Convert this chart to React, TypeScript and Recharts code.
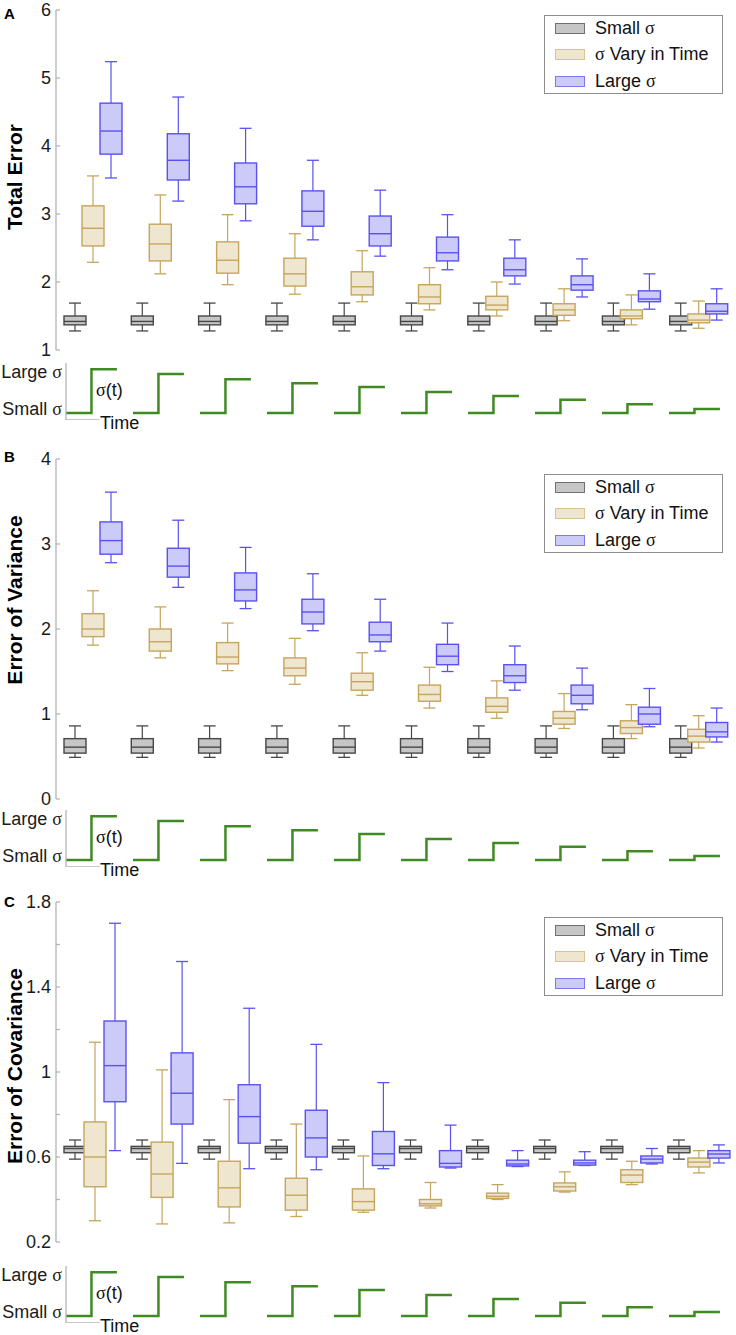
import React from 'react';
import { ComposedChart, Bar, XAxis, YAxis, Legend, LineChart, Line, ReferenceLine } from 'recharts';

const FONT = "'Liberation Sans', Arial, Helvetica, sans-serif";
const SERIF = "'Liberation Serif', 'DejaVu Serif', serif";

const groups = ['1', '2', '3', '4', '5', '6', '7', '8', '9', '10'];
const seriesNames = ['Small σ', 'σ Vary in Time', 'Large σ'];

// each box: [min, q1, median, q3, max]
const totalSmall = [
  [1.28, 1.37, 1.42, 1.5, 1.69], [1.28, 1.37, 1.42, 1.5, 1.69], [1.28, 1.37, 1.42, 1.5, 1.69],
  [1.28, 1.37, 1.42, 1.5, 1.69], [1.28, 1.37, 1.42, 1.5, 1.69], [1.28, 1.37, 1.42, 1.5, 1.69],
  [1.28, 1.37, 1.42, 1.5, 1.69], [1.28, 1.37, 1.42, 1.5, 1.69], [1.28, 1.37, 1.42, 1.5, 1.69],
  [1.28, 1.37, 1.42, 1.5, 1.69],
];
const totalVary = [
  [2.29, 2.53, 2.79, 3.12, 3.56], [2.12, 2.31, 2.56, 2.85, 3.28], [1.96, 2.13, 2.32, 2.59, 2.99],
  [1.82, 1.94, 2.12, 2.35, 2.71], [1.71, 1.81, 1.93, 2.15, 2.46], [1.59, 1.68, 1.78, 1.96, 2.21],
  [1.5, 1.59, 1.66, 1.79, 2.0], [1.43, 1.51, 1.59, 1.68, 1.9], [1.37, 1.46, 1.5, 1.59, 1.81],
  [1.32, 1.4, 1.44, 1.53, 1.72],
];
const totalLarge = [
  [3.53, 3.88, 4.22, 4.63, 5.24], [3.19, 3.5, 3.79, 4.18, 4.72], [2.9, 3.15, 3.4, 3.75, 4.26],
  [2.62, 2.82, 3.04, 3.34, 3.79], [2.38, 2.53, 2.71, 2.97, 3.35], [2.18, 2.31, 2.43, 2.66, 2.99],
  [1.97, 2.09, 2.18, 2.35, 2.62], [1.78, 1.88, 1.96, 2.09, 2.34], [1.6, 1.71, 1.75, 1.87, 2.12],
  [1.44, 1.53, 1.57, 1.68, 1.9],
];

const varSmall = [
  [0.49, 0.54, 0.61, 0.71, 0.86], [0.49, 0.54, 0.61, 0.71, 0.86], [0.49, 0.54, 0.61, 0.71, 0.86],
  [0.49, 0.54, 0.61, 0.71, 0.86], [0.49, 0.54, 0.61, 0.71, 0.86], [0.49, 0.54, 0.61, 0.71, 0.86],
  [0.49, 0.54, 0.61, 0.71, 0.86], [0.49, 0.54, 0.61, 0.71, 0.86], [0.49, 0.54, 0.61, 0.71, 0.86],
  [0.49, 0.54, 0.61, 0.71, 0.86],
];
const varVary = [
  [1.81, 1.91, 2.0, 2.18, 2.45], [1.66, 1.74, 1.85, 2.0, 2.26], [1.51, 1.59, 1.67, 1.84, 2.07],
  [1.35, 1.45, 1.54, 1.66, 1.89], [1.22, 1.28, 1.38, 1.48, 1.72], [1.07, 1.15, 1.23, 1.34, 1.55],
  [0.95, 1.02, 1.09, 1.19, 1.39], [0.83, 0.88, 0.95, 1.03, 1.24], [0.71, 0.77, 0.84, 0.92, 1.11],
  [0.6, 0.67, 0.74, 0.82, 0.98],
];
const varLarge = [
  [2.78, 2.88, 3.04, 3.26, 3.61], [2.49, 2.61, 2.74, 2.95, 3.28], [2.24, 2.33, 2.46, 2.66, 2.96],
  [1.98, 2.06, 2.2, 2.35, 2.65], [1.74, 1.85, 1.93, 2.08, 2.35], [1.5, 1.58, 1.68, 1.82, 2.07],
  [1.28, 1.37, 1.45, 1.58, 1.8], [1.05, 1.12, 1.22, 1.34, 1.54], [0.85, 0.88, 1.0, 1.08, 1.3],
  [0.67, 0.73, 0.79, 0.9, 1.07],
];

const covSmall = [
  [0.59, 0.62, 0.64, 0.65, 0.68], [0.59, 0.62, 0.64, 0.65, 0.68], [0.59, 0.62, 0.64, 0.65, 0.68],
  [0.59, 0.62, 0.64, 0.65, 0.68], [0.59, 0.62, 0.64, 0.65, 0.68], [0.59, 0.62, 0.64, 0.65, 0.68],
  [0.59, 0.62, 0.64, 0.65, 0.68], [0.59, 0.62, 0.64, 0.65, 0.68], [0.59, 0.62, 0.64, 0.65, 0.68],
  [0.59, 0.62, 0.64, 0.65, 0.68],
];
const covVary = [
  [0.3, 0.46, 0.6, 0.765, 1.14], [0.285, 0.41, 0.52, 0.67, 1.01], [0.29, 0.365, 0.455, 0.58, 0.87],
  [0.32, 0.35, 0.42, 0.5, 0.755], [0.34, 0.35, 0.39, 0.45, 0.605], [0.36, 0.37, 0.38, 0.4, 0.48],
  [0.4, 0.405, 0.415, 0.43, 0.47], [0.435, 0.44, 0.46, 0.478, 0.53], [0.47, 0.48, 0.515, 0.54, 0.58],
  [0.525, 0.553, 0.576, 0.595, 0.63],
];
const covLarge = [
  [0.63, 0.86, 1.03, 1.24, 1.7], [0.57, 0.755, 0.9, 1.09, 1.52], [0.545, 0.665, 0.79, 0.94, 1.3],
  [0.54, 0.6, 0.69, 0.82, 1.13], [0.545, 0.56, 0.615, 0.72, 0.95], [0.548, 0.553, 0.57, 0.63, 0.75],
  [0.555, 0.558, 0.567, 0.585, 0.63], [0.56, 0.562, 0.572, 0.585, 0.625], [0.567, 0.572, 0.59, 0.605, 0.64],
  [0.572, 0.595, 0.614, 0.63, 0.657],
];

const totalTicks = [1, 2, 3, 4, 5, 6];
const totalTickLabels = ['1', '2', '3', '4', '5', '6'];
const varTicks = [0, 1, 2, 3, 4];
const varTickLabels = ['0', '1', '2', '3', '4'];
const covTicks = [0.2, 0.4, 0.6, 0.8, 1.0, 1.2, 1.4, 1.6, 1.8];
const covTickLabels = ['0.2', '', '0.6', '', '1', '', '1.4', '', '1.8'];

// sigma(t) illustration: size of the step in each group (0 = small σ, 1 = large σ)
const stepLevels = [1, 0.89, 0.77, 0.68, 0.59, 0.48, 0.39, 0.3, 0.2, 0.09];
const stepStarts = [0, 1, 2, 3, 4, 5, 6, 7, 8, 9];
const stepJump = 0.38;
const stepEnd = 0.76;
const stripTicks = [0, 1];
const stripTickLabels = ['Small σ', 'Large σ'];

const SERIES = [
  { key: 'small', fill: '#c6c6c6', stroke: '#474747', legendStroke: '#707070' },
  { key: 'vary', fill: '#efe6cf', stroke: '#c6a55c', legendStroke: '#d8c393' },
  { key: 'large', fill: '#cbcaf9', stroke: '#5a52f0', legendStroke: '#7d77f2' },
];

const AXIS_COLOR = '#b3b3b3';
const GREEN = '#3f8a22';

const buildRows = (small: number[][], vary: number[][], large: number[][]) =>
  groups.map((g, i) => ({ g, small: small[i], vary: vary[i], large: large[i] }));

const totalRows = buildRows(totalSmall, totalVary, totalLarge);
const varRows = buildRows(varSmall, varVary, varLarge);
const covRows = buildRows(covSmall, covVary, covLarge);

const stepRows: { t: number; v: number | null }[] = [];
stepStarts.forEach((s, i) => {
  stepRows.push({ t: s, v: 0 });
  stepRows.push({ t: s + stepJump, v: stepLevels[i] });
  stepRows.push({ t: s + stepEnd, v: stepLevels[i] });
  stepRows.push({ t: s + stepEnd + 0.1, v: null });
});

const sigmaSpans = (label: string) => {
  const parts = label.split('σ');
  const out: React.ReactNode[] = [];
  parts.forEach((p, i) => {
    if (p) out.push(<span key={'p' + i}>{p}</span>);
    if (i < parts.length - 1) out.push(<span key={'s' + i} style={{ fontFamily: SERIF }}>σ</span>);
  });
  return out;
};

const sigmaTspans = (label: string) => {
  const parts = label.split('σ');
  const out: React.ReactNode[] = [];
  parts.forEach((p, i) => {
    if (p) out.push(<tspan key={'p' + i}>{p}</tspan>);
    if (i < parts.length - 1) out.push(<tspan key={'s' + i} fontFamily={SERIF}>σ</tspan>);
  });
  return out;
};

const makeBoxShape = (key: string, fill: string, stroke: string) => (props: any) => {
  const { x, y, width, height, payload } = props;
  const s: number[] = payload && payload[key];
  if (!s || x == null || y == null) return <g />;
  const top = Math.min(y, y + height);
  const h = Math.abs(height);
  const k = h / (s[4] - s[0]);
  const py = (v: number) => top + (s[4] - v) * k;
  const cx = x + width / 2;
  const bw = 22;
  const cw = 12;
  return (
    <g>
      <line x1={cx} x2={cx} y1={py(s[4])} y2={py(s[3])} stroke={stroke} strokeWidth={1.2} />
      <line x1={cx} x2={cx} y1={py(s[1])} y2={py(s[0])} stroke={stroke} strokeWidth={1.2} />
      <line x1={cx - cw / 2} x2={cx + cw / 2} y1={py(s[4])} y2={py(s[4])} stroke={stroke} strokeWidth={1.3} />
      <line x1={cx - cw / 2} x2={cx + cw / 2} y1={py(s[0])} y2={py(s[0])} stroke={stroke} strokeWidth={1.3} />
      <rect x={cx - bw / 2} y={py(s[3])} width={bw} height={Math.max(0.5, py(s[1]) - py(s[3]))} fill={fill} stroke={stroke} strokeWidth={1.4} />
      <line x1={cx - bw / 2} x2={cx + bw / 2} y1={py(s[2])} y2={py(s[2])} stroke={stroke} strokeWidth={1.4} />
    </g>
  );
};

const renderYTick = (ticks: number[], labels: string[]) => (p: any) => {
  const { x, y, payload } = p;
  const i = ticks.findIndex((t) => Math.abs(t - payload.value) < 1e-6);
  const lab = i >= 0 ? labels[i] : '';
  return (
    <g>
      <line x1={x + 5} x2={x + 9} y1={y} y2={y} stroke={AXIS_COLOR} strokeWidth={1.3} />
      {lab ? (
        <text x={x} y={y} textAnchor="end" dominantBaseline="central" fontSize={18} fill="#1a1a1a" fontFamily={FONT}>
          {lab}
        </text>
      ) : null}
    </g>
  );
};

const renderStripTick = (p: any) => {
  const { x, y, payload } = p;
  const i = stripTicks.findIndex((t) => Math.abs(t - payload.value) < 1e-6);
  const lab = i >= 0 ? stripTickLabels[i] : '';
  const dy = payload.value > 0.5 ? 3 : -4;
  return (
    <text x={x} y={y + dy} textAnchor="end" dominantBaseline="central" fontSize={18} fill="#1a1a1a" fontFamily={FONT}>
      {sigmaTspans(lab)}
    </text>
  );
};

const renderLegend = () => (
  <div
    style={{
      position: 'relative',
      width: 179,
      height: 79,
      boxSizing: 'border-box',
      border: '1px solid #8e8e8e',
      background: '#fff',
      fontFamily: FONT,
      fontSize: 18,
      color: '#111',
    }}
  >
    {seriesNames.map((name, i) => (
      <div key={name} style={{ position: 'absolute', left: 0, top: 11.5 + i * 26.5 - 11, height: 22, width: 177 }}>
        <div
          style={{
            position: 'absolute',
            left: 10,
            top: 6,
            width: 30,
            height: 11,
            boxSizing: 'border-box',
            background: SERIES[i].fill,
            border: `1px solid ${SERIES[i].legendStroke}`,
          }}
        />
        <div style={{ position: 'absolute', left: 50, top: 0, lineHeight: '22px', whiteSpace: 'nowrap' }}>{sigmaSpans(name)}</div>
      </div>
    ))}
  </div>
);

type PanelProps = {
  top: number;
  rows: any[];
  domain: [number, number];
  ticks: number[];
  tickLabels: string[];
  title: string;
  titleY: number;
  letter: string;
  letterY: number;
  legendTop: number;
  barSize: number;
  padLeft: number;
};

function BoxPanel(p: PanelProps) {
  return (
    <>
      <div style={{ position: 'absolute', left: 0, top: p.top, width: 736, height: 364 }}>
        <ComposedChart
          width={736}
          height={364}
          data={p.rows}
          margin={{ top: 10, right: 4, bottom: 14, left: 0 }}
          barSize={p.barSize}
          barGap={0}
        >
          <XAxis
            dataKey="g"
            type="category"
            tick={false}
            tickLine={false}
            height={0}
            axisLine={{ stroke: AXIS_COLOR, strokeWidth: 1.3 }}
            padding={{ left: p.padLeft, right: 0 }}
          />
          <YAxis
            type="number"
            domain={p.domain}
            ticks={p.ticks}
            interval={0}
            allowDataOverflow
            width={56}
            tickSize={0}
            tickMargin={5}
            tickLine={false}
            axisLine={{ stroke: AXIS_COLOR, strokeWidth: 1.3 }}
            tick={renderYTick(p.ticks, p.tickLabels)}
          />
          <Legend
            layout="vertical"
            align="center"
            verticalAlign="middle"
            content={renderLegend}
            wrapperStyle={{ top: p.legendTop, left: 544, width: 179, height: 79 }}
          />
          {SERIES.map((s, i) => (
            <Bar
              key={s.key}
              name={seriesNames[i]}
              dataKey={(d: any) => [d[s.key][0], d[s.key][4]]}
              fill={s.fill}
              stroke={s.stroke}
              isAnimationActive={false}
              shape={makeBoxShape(s.key, s.fill, s.stroke)}
            />
          ))}
        </ComposedChart>
      </div>
      <div
        style={{
          position: 'absolute',
          left: 15,
          top: p.titleY,
          transform: 'translate(-50%, -50%) rotate(-90deg)',
          fontFamily: FONT,
          fontWeight: 'bold',
          fontSize: 21,
          whiteSpace: 'nowrap',
          color: '#000',
          lineHeight: '24px',
        }}
      >
        {p.title}
      </div>
      <div
        style={{
          position: 'absolute',
          left: 4,
          top: p.letterY - 8,
          fontFamily: FONT,
          fontWeight: 'bold',
          fontSize: 15,
          lineHeight: '16px',
          color: '#000',
        }}
      >
        {p.letter}
      </div>
    </>
  );
}

function StepStrip({ top }: { top: number }) {
  return (
    <div style={{ position: 'absolute', left: 0, top, width: 736, height: 57 }}>
      <LineChart width={736} height={57} data={stepRows} margin={{ top: 0, right: 0, bottom: 0, left: 0 }}>
        <XAxis dataKey="t" type="number" domain={[0, 10]} hide allowDataOverflow />
        <YAxis
          type="number"
          domain={[-0.16, 1.14]}
          ticks={stripTicks}
          interval={0}
          allowDataOverflow
          width={66}
          tickSize={0}
          tickMargin={4}
          tickLine={false}
          axisLine={{ stroke: AXIS_COLOR, strokeWidth: 1.3 }}
          tick={renderStripTick}
        />
        <ReferenceLine
          segment={[{ x: 0, y: -0.16 }, { x: 0.5, y: -0.16 }]}
          stroke={AXIS_COLOR}
          strokeWidth={1.3}
          ifOverflow="visible"
        />
        <Line
          dataKey="v"
          type="stepAfter"
          stroke={GREEN}
          strokeWidth={2.5}
          dot={false}
          activeDot={false}
          connectNulls={false}
          isAnimationActive={false}
        />
      </LineChart>
      <div style={{ position: 'absolute', left: 100, top: 50, fontFamily: FONT, fontSize: 18, lineHeight: '20px', color: '#111' }}>
        Time
      </div>
      <div style={{ position: 'absolute', left: 96, top: 16, fontFamily: FONT, fontSize: 18, lineHeight: '22px', color: '#111' }}>
        {sigmaSpans('σ(t)')}
      </div>
    </div>
  );
}

export default function App() {
  return (
    <div style={{ position: 'absolute', left: 0, top: 0, width: 736, height: 1335, background: '#fff', overflow: 'hidden' }}>
      <BoxPanel
        top={0}
        rows={totalRows}
        domain={[1, 6]}
        ticks={totalTicks}
        tickLabels={totalTickLabels}
        title="Total Error"
        titleY={177}
        letter="A"
        letterY={14}
        legendTop={15}
        barSize={18}
        padLeft={3}
      />
      <StepStrip top={363} />
      <BoxPanel
        top={449}
        rows={varRows}
        domain={[0, 4]}
        ticks={varTicks}
        tickLabels={varTickLabels}
        title="Error of Variance"
        titleY={600}
        letter="B"
        letterY={457}
        legendTop={25}
        barSize={18}
        padLeft={3}
      />
      <StepStrip top={810} />
      <BoxPanel
        top={892}
        rows={covRows}
        domain={[0.2, 1.8]}
        ticks={covTicks}
        tickLabels={covTickLabels}
        title="Error of Covariance"
        titleY={1066}
        letter="C"
        letterY={902}
        legendTop={25}
        barSize={20}
        padLeft={5}
      />
      <StepStrip top={1266} />
    </div>
  );
}
